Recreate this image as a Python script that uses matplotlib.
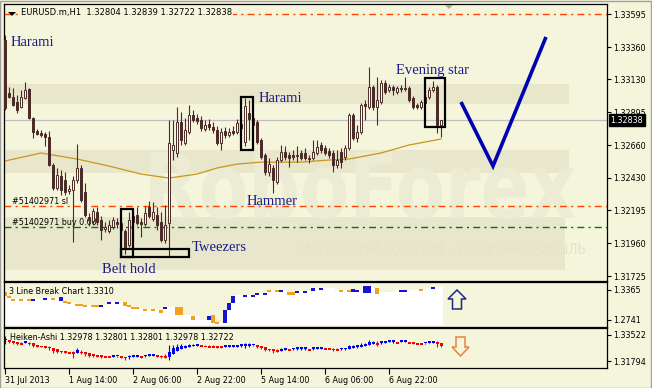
import numpy as np
import matplotlib
matplotlib.use('Agg')
import matplotlib.pyplot as plt
from matplotlib.patches import Rectangle, Polygon, PathPatch
from matplotlib.textpath import TextPath
from matplotlib.font_manager import FontProperties
from matplotlib.transforms import Affine2D, IdentityTransform, blended_transform_factory

# ---- data (EURUSD.m H1) ----
opens = [1.33411, 1.33033, 1.33004, 1.32969, 1.32933, 1.32997, 1.33062, 1.32854, 1.32762, 1.32747,
         1.32740, 1.32719, 1.32519, 1.32355, 1.32441, 1.32412, 1.32334, 1.32341, 1.32412, 1.32498,
         1.32326, 1.32148, 1.32119, 1.32184, 1.32126, 1.32062, 1.32048, 1.32076, 1.32112, 1.32105,
         1.32048, 1.31948, 1.32112, 1.32162, 1.32112, 1.32098, 1.32219, 1.32134, 1.32162, 1.32112,
         1.31984, 1.32105, 1.32626, 1.32605, 1.32826, 1.32676, 1.32754, 1.32876, 1.32854, 1.32840,
         1.32776, 1.32812, 1.32790, 1.32769, 1.32676, 1.32762, 1.32733, 1.32762, 1.32754, 1.32812,
         1.32683, 1.32890, 1.32854, 1.32826, 1.32697, 1.32590, 1.32469, 1.32498, 1.32398, 1.32555,
         1.32612, 1.32590, 1.32590, 1.32583, 1.32605, 1.32605, 1.32569, 1.32569, 1.32605, 1.32662,
         1.32640, 1.32619, 1.32605, 1.32519, 1.32612, 1.32576, 1.32640, 1.32876, 1.32712, 1.32754,
         1.32954, 1.32933, 1.33076, 1.32933, 1.32969, 1.33104, 1.33054, 1.33076, 1.33040, 1.33069,
         1.33062, 1.33069, 1.32997, 1.32947, 1.32933, 1.33004, 1.33004, 1.33054, 1.33076, 1.32804]
highs = [1.33447, 1.33076, 1.33069, 1.33019, 1.33054, 1.33112, 1.33069, 1.32862, 1.32776, 1.32769,
         1.32754, 1.32762, 1.32533, 1.32498, 1.32484, 1.32469, 1.32377, 1.32441, 1.32669, 1.32519,
         1.32391, 1.32176, 1.32212, 1.32219, 1.32155, 1.32112, 1.32126, 1.32148, 1.32141, 1.32126,
         1.32062, 1.32184, 1.32184, 1.32219, 1.32141, 1.32226, 1.32262, 1.32255, 1.32219, 1.32184,
         1.32233, 1.32840, 1.32840, 1.32933, 1.32897, 1.32854, 1.32947, 1.32912, 1.32883, 1.32869,
         1.32840, 1.32847, 1.32826, 1.32797, 1.32783, 1.32790, 1.32783, 1.32797, 1.32847, 1.32840,
         1.32997, 1.32983, 1.32876, 1.32840, 1.32712, 1.32605, 1.32569, 1.32519, 1.32576, 1.32662,
         1.32655, 1.32612, 1.32626, 1.32655, 1.32626, 1.32640, 1.32590, 1.32697, 1.32697, 1.32683,
         1.32662, 1.32640, 1.32626, 1.32626, 1.32640, 1.32662, 1.32890, 1.32890, 1.32804, 1.32962,
         1.32983, 1.33219, 1.33090, 1.33147, 1.33126, 1.33126, 1.33097, 1.33090, 1.33083, 1.33090,
         1.33147, 1.33083, 1.33012, 1.32962, 1.32983, 1.33019, 1.33076, 1.33119, 1.33090, 1.32839]
lows = [1.32912, 1.32997, 1.32940, 1.32890, 1.32926, 1.32990, 1.32847, 1.32712, 1.32733, 1.32719,
        1.32655, 1.32512, 1.32341, 1.32341, 1.32305, 1.32305, 1.32312, 1.31969, 1.32391, 1.32255,
        1.32148, 1.32084, 1.32091, 1.32091, 1.31984, 1.32041, 1.32034, 1.32062, 1.32069, 1.32012,
        1.31883, 1.31933, 1.32098, 1.32091, 1.32005, 1.32084, 1.32141, 1.32119, 1.32055, 1.31969,
        1.31962, 1.31869, 1.32555, 1.32576, 1.32662, 1.32662, 1.32740, 1.32826, 1.32812, 1.32762,
        1.32762, 1.32769, 1.32747, 1.32662, 1.32626, 1.32712, 1.32719, 1.32733, 1.32740, 1.32754,
        1.32655, 1.32697, 1.32783, 1.32669, 1.32562, 1.32448, 1.32441, 1.32319, 1.32384, 1.32540,
        1.32555, 1.32505, 1.32555, 1.32540, 1.32555, 1.32555, 1.32533, 1.32555, 1.32590, 1.32605,
        1.32590, 1.32569, 1.32469, 1.32498, 1.32498, 1.32555, 1.32626, 1.32697, 1.32683, 1.32740,
        1.32840, 1.32919, 1.32912, 1.32804, 1.32954, 1.33026, 1.33040, 1.33019, 1.33026, 1.33040,
        1.33047, 1.32969, 1.32919, 1.32919, 1.32919, 1.32947, 1.32990, 1.33040, 1.32747, 1.32722]
closes = [1.32926, 1.33004, 1.32947, 1.32912, 1.33004, 1.33054, 1.32854, 1.32754, 1.32740, 1.32733,
          1.32719, 1.32519, 1.32355, 1.32448, 1.32341, 1.32326, 1.32348, 1.32412, 1.32498, 1.32269,
          1.32162, 1.32126, 1.32191, 1.32112, 1.32055, 1.32076, 1.32091, 1.32126, 1.32098, 1.32055,
          1.31926, 1.32126, 1.32155, 1.32105, 1.32098, 1.32176, 1.32155, 1.32184, 1.32091, 1.31984,
          1.32091, 1.32676, 1.32662, 1.32826, 1.32697, 1.32769, 1.32876, 1.32840, 1.32833, 1.32783,
          1.32804, 1.32790, 1.32769, 1.32676, 1.32754, 1.32733, 1.32754, 1.32747, 1.32819, 1.32783,
          1.32940, 1.32847, 1.32804, 1.32683, 1.32576, 1.32469, 1.32526, 1.32412, 1.32555, 1.32612,
          1.32576, 1.32569, 1.32576, 1.32590, 1.32569, 1.32569, 1.32562, 1.32612, 1.32647, 1.32626,
          1.32605, 1.32590, 1.32519, 1.32555, 1.32540, 1.32640, 1.32876, 1.32712, 1.32754, 1.32947,
          1.32940, 1.33076, 1.32933, 1.32983, 1.33104, 1.33040, 1.33076, 1.33054, 1.33069, 1.33062,
          1.33069, 1.32983, 1.32933, 1.32933, 1.32969, 1.32962, 1.33054, 1.33076, 1.32804, 1.32838]

# moving average, sampled at bar indices
ma_idx = [0, 9, 18, 26, 34, 41, 48, 53, 58, 64, 74, 81, 86, 94, 101, 109]
ma_val = [1.32548, 1.32605, 1.32562, 1.32512, 1.32455, 1.32426, 1.32455, 1.32498,
          1.32526, 1.32540, 1.32540, 1.32555, 1.32562, 1.32605, 1.32662, 1.32705]

# 3 Line Break chart subwindow: top / bottom of each mark, kind u=up d=down n=none
lb_top = [1.3323, 1.3240, 1.3178, 1.3178, 1.3178, 1.3178, 1.3178, 1.3178, 1.3178, 1.3178,
          1.3198, 1.3198, 1.3198, 1.3198, 1.3219, 1.3136, 1.3115, 1.3094, 1.3074, 1.3074,
          1.3053, 1.3053, 1.3053, 1.3053, 1.3053, 1.3053, 1.3115, 1.3115, 1.3115, 1.3115,
          1.3115, 1.3053, 1.3011, 1.3011, 1.2970, 1.2970, 1.2970, 1.2970, 1.2970, 1.2949,
          1.3011, 1.3011, 1.3011, 1.3011, 1.3011, 1.2845, 1.2845, 1.2824, 1.2824, 1.2741,
          1.2741, 1.2824, 1.2845, 1.2699, 1.2699, 1.2949, 1.3094, 1.3240, 1.3261, 1.3261,
          1.3261, 1.3261, 1.3261, 1.3303, 1.3303, 1.3303, 1.3365, 1.3365, 1.3365, 1.3365,
          1.3365, 1.3323, 1.3323, 1.3344, 1.3344, 1.3344, 1.3344, 1.3407, 1.3407, 1.3407,
          1.3407, 1.3407, 1.3407, 1.3365, 1.3365, 1.3365, 1.3365, 1.3386, 1.3365, 1.3365,
          1.3448, 1.3448, 1.3407, 1.3407, 1.3323, 1.3323, 1.3323, 1.3323, 1.3365, 1.3365,
          1.3365, 1.3365, 1.3365, 1.3365, 1.3386, 1.3386, 1.3407, 1.3427, 1.3427, 1.3427]
lb_bot = [1.3240, 1.3198, 1.3136, 1.3136, 1.3136, 1.3136, 1.3136, 1.3136, 1.3136, 1.3136,
          1.3157, 1.3157, 1.3157, 1.3157, 1.3136, 1.3094, 1.3074, 1.3053, 1.3032, 1.3032,
          1.3011, 1.3011, 1.3011, 1.3011, 1.3011, 1.3011, 1.3074, 1.3074, 1.3074, 1.3074,
          1.3032, 1.3011, 1.2970, 1.2970, 1.2928, 1.2928, 1.2928, 1.2928, 1.2928, 1.2887,
          1.2970, 1.2970, 1.2970, 1.2845, 1.2845, 1.2803, 1.2803, 1.2741, 1.2741, 1.2699,
          1.2699, 1.2741, 1.2678, 1.2658, 1.2658, 1.2678, 1.2949, 1.3094, 1.3219, 1.3219,
          1.3219, 1.3219, 1.3219, 1.3261, 1.3261, 1.3261, 1.3323, 1.3323, 1.3323, 1.3323,
          1.3323, 1.3261, 1.3261, 1.3303, 1.3303, 1.3303, 1.3303, 1.3344, 1.3365, 1.3365,
          1.3365, 1.3365, 1.3365, 1.3323, 1.3323, 1.3323, 1.3323, 1.3323, 1.3323, 1.3323,
          1.3303, 1.3303, 1.3365, 1.3282, 1.3282, 1.3282, 1.3282, 1.3282, 1.3323, 1.3323,
          1.3323, 1.3323, 1.3323, 1.3323, 1.3344, 1.3344, 1.3365, 1.3386, 1.3386, 1.3386]
lb_kind = ("dddndndunn" "undnuddndd" "dnddununun" "ddddndndnd" "unnddnndnn"
           "nuddnuuunn" "unuunudndu" "nddunununu" "nnnndnduun" "uundnnnnnu" "unnndnnunn")
lb_floor = 1.2637

# levels and annotations
tp_level = 1.33595
sl_level = 1.32229
buy_level = 1.32074
bid = 1.32838
forecast_x = [114, 122, 135.25]
forecast_y = [1.32969, 1.32512, 1.33433]

price_ticks = [1.31725, 1.31960, 1.32195, 1.32430, 1.32660, 1.32895, 1.33130, 1.33360, 1.33595]
time_ticks = [0, 16, 32, 48, 64, 80, 96]
time_labels = ['31 Jul 2013', '1 Aug 14:00', '2 Aug 06:00', '2 Aug 22:00',
               '5 Aug 14:00', '6 Aug 06:00', '6 Aug 22:00']

# pattern name, text x, text y, box (x0, x1, y0, y1)
patterns = [
    ('Harami', 1.5, 1.33369, None),
    ('Harami', 63.5, 1.32969, (59.0, 62.0, 1.32626, 1.33004)),
    ('Evening star', 97.75, 1.33169, (105.0, 110.0, 1.32790, 1.33140)),
    ('Hammer', 60.5, 1.32233, None),
    ('Tweezers', 46.75, 1.31905, (29.0, 46.0, 1.31862, 1.31919)),
    ('Belt hold', 24.25, 1.31748, (29.0, 32.0, 1.31862, 1.32205)),
]

# ---- figure ----
W, H = 652, 388
BG = '#F5F5DC'
BAND = '#E9E7CB'
CANDLE = '#4A2B27'
TXT = 'DejaVu Sans'
FS = 5.8

fig = plt.figure(figsize=(W / 100, H / 100), dpi=100, facecolor=BG)


def px_box(x0, y0, x1, y1):
    return [x0 / W, 1 - y1 / H, (x1 - x0) / W, (y1 - y0) / H]


ax = fig.add_axes(px_box(4, 4, 607, 281))
ax1 = fig.add_axes(px_box(4, 282, 607, 327))
ax2 = fig.add_axes(px_box(4, 328, 607, 368))

for a in (ax, ax1, ax2):
    a.set_facecolor(BG)
    a.set_xlim(-0.25, 150.5)
    for s in a.spines.values():
        s.set_color('black')
        s.set_linewidth(0.9)
    a.tick_params(axis='y', left=False, right=True, labelleft=False, labelright=True,
                  direction='out', length=3, width=0.8, labelsize=FS, pad=1.5)
    a.tick_params(axis='x', bottom=False, labelbottom=False)

ax.set_ylim(1.316915, 1.336685)
ax1.set_ylim(1.2595, 1.3531)
ax2.set_ylim(1.31329, 1.33987)


def text_in_box(axis, s, x0, x1, ytop, ybase, color, weight='bold'):
    fp = FontProperties(family=TXT, weight=weight)
    tp = TextPath((0, 0), s, size=1, prop=fp)
    ext = tp.get_extents()
    cap = TextPath((0, 0), 'H', size=1, prop=fp).get_extents().y1
    tr = Affine2D().translate(-ext.x0, 0).scale((x1 - x0) / ext.width, (ybase - ytop) / cap)
    tr = tr.translate(x0, H - ybase)
    patch = PathPatch(tr.transform_path(tp), facecolor=color, edgecolor='none',
                      transform=IdentityTransform(), zorder=0.6)
    axis.add_artist(patch)


# background bands and faint watermark
ax.axhspan(1.32954, 1.33097, xmax=0.937, color=BAND, lw=0, zorder=0.3)
ax.axhspan(1.32462, 1.32626, xmax=0.937, color=BAND, lw=0, zorder=0.3)
ax.axhspan(1.31770, 1.32148, xmax=0.931, color=BAND, lw=0, zorder=0.3)
text_in_box(ax, 'RoboForex', 150, 575, 152, 218, '#ECEBD3')
text_in_box(ax, 'ИСПОЛЬЗУЙ РОБОТОВ – ПОЛУЧАЙ ПРИБЫЛЬ', 303, 585, 243, 254, '#E4E2CA', weight='normal')

# order lines
ax.axhline(tp_level, color='#FF4500', lw=1.0, dashes=(5, 3, 1.5, 3), zorder=1)
ax.axhline(sl_level, color='#FF4500', lw=1.0, dashes=(5, 3, 1.5, 3), zorder=1)
ax.axhline(buy_level, color='#007A00', lw=1.0, dashes=(5, 3, 1.5, 3), zorder=1)
ax.axhline(bid, color='#BEBEBE', lw=0.9, zorder=1)
ax.text(1.75, sl_level, '#51402971 sl', fontsize=FS, family=TXT, va='bottom', zorder=1.5)
ax.text(1.75, buy_level, '#51402971 buy 0.00', fontsize=FS, family=TXT, va='bottom', zorder=1.5)

# moving average
ax.plot(ma_idx, ma_val, color='#C8961E', lw=0.9, zorder=2)

# candles
n = len(closes)
idx = np.arange(n)
for i in range(n):
    o, h, l, c = opens[i], highs[i], lows[i], closes[i]
    ax.vlines(i, l, h, color=CANDLE, lw=0.8, zorder=3)
    bot = min(o, c)
    hgt = max(abs(c - o), 0.00002)
    fc = CANDLE if c < o else '#FFFFF4'
    ax.add_patch(Rectangle((i - 0.3, bot), 0.6, hgt, facecolor=fc, edgecolor=CANDLE,
                           lw=0.7, zorder=3.2))

# pattern boxes and labels
for name, tx, ty, rect in patterns:
    ax.text(tx, ty, name, family='Liberation Serif', fontsize=10.5, color='#1A1A8A',
            va='baseline', ha='left', zorder=5)
    if rect is not None:
        x0, x1, y0, y1 = rect
        ax.add_patch(Rectangle((x0, y0), x1 - x0, y1 - y0, fill=False, edgecolor='black',
                               lw=1.6, zorder=4))

# forecast V
ax.plot(forecast_x, forecast_y, color='#0000B4', lw=2.6, solid_capstyle='butt',
        solid_joinstyle='miter', zorder=5)

ax.set_yticks(price_ticks)
ax.set_yticklabels(['%.5f' % v for v in price_ticks], family=TXT)
ax.set_xticks([])

# bid tag
tag_tr = blended_transform_factory(ax.transAxes, ax.transData)
ax.text(1.006, bid, '%.5f' % bid, transform=tag_tr, fontsize=FS, family=TXT, color='white',
        va='center', ha='left', clip_on=False, zorder=10,
        bbox=dict(boxstyle='square,pad=0.18', fc='black', ec='black'))

# ---- 3 Line Break subwindow ----
top = np.array(lb_top)
bot = np.array(lb_bot)
kinds = np.array(list(lb_kind))
ax1.bar(idx, top - lb_floor, bottom=lb_floor, width=1.0, color='white', lw=0, zorder=1)
for k, col in (('u', '#1414D2'), ('d', '#F2A024')):
    m = kinds == k
    ax1.bar(idx[m], top[m] - bot[m], bottom=bot[m], width=0.9, color=col, lw=0, zorder=2)
ax1.set_yticks([1.2741, 1.3365])
ax1.set_yticklabels(['1.2741', '1.3365'], family=TXT)
ax1.set_xticks([])
ax1.text(0.009, 0.78, '3 Line Break Chart 1.3310', transform=ax1.transAxes, fontsize=FS,
         family=TXT, va='center', zorder=5)

# ---- Heiken-Ashi subwindow (computed from the candles) ----
o = np.array(opens); h = np.array(highs); l = np.array(lows); c = np.array(closes)
ha_c = (o + h + l + c) / 4
ha_o = np.empty(n)
ha_o[0] = (o[0] + c[0]) / 2
for i in range(1, n):
    ha_o[i] = (ha_o[i - 1] + ha_c[i - 1]) / 2
ha_h = np.maximum.reduce([h, ha_o, ha_c])
ha_l = np.minimum.reduce([l, ha_o, ha_c])
ha_col = np.where(ha_c >= ha_o, '#0000F0', '#F00000')
body = ha_c - ha_o
body = np.where(np.abs(body) < 0.0012, np.where(body >= 0, 0.0012, -0.0012), body)
ax2.vlines(idx, ha_l, ha_h, colors=ha_col, lw=0.8, zorder=2)
ax2.bar(idx, body, bottom=ha_o, width=0.75, color=ha_col, lw=0, zorder=3)
ax2.set_yticks([1.31794, 1.33522])
ax2.set_yticklabels(['1.31794', '1.33522'], family=TXT)
ax2.text(0.01, 0.75, 'Heiken-Ashi 1.32978 1.32801 1.32801 1.32978 1.32722', transform=ax2.transAxes,
         fontsize=FS, family=TXT, va='center', zorder=5)
ax2.tick_params(axis='x', bottom=True, labelbottom=True, direction='out', length=4,
                width=0.8, labelsize=FS, pad=2)
ax2.set_xticks(time_ticks)
ax2.set_xticklabels(time_labels, family=TXT, ha='left')

# arrows in the subwindows
up = [(457, 290), (448, 299), (452.5, 299), (452.5, 309), (461.5, 309), (461.5, 299), (466, 299)]
dn = [(460.5, 356), (452, 347), (456, 347), (456, 337), (465, 337), (465, 347), (469, 347)]
for pts, ec in ((up, '#1C2A80'), (dn, '#E8843C')):
    fig.add_artist(Polygon([(x, H - y) for x, y in pts], closed=True, facecolor=BG,
                           edgecolor=ec, lw=1.1, transform=IdentityTransform(), zorder=6))

# header
fig.text(21 / W, 1 - 12.5 / H, 'EURUSD.m,H1  1.32804 1.32839 1.32722 1.32838', fontsize=6,
         family=TXT, va='center', ha='left', zorder=6,
         bbox=dict(boxstyle='square,pad=0.12', fc=BG, ec='none'))
fig.add_artist(Polygon([(8, H - 12), (16, H - 12), (12, H - 16)], closed=True, facecolor='black',
                       edgecolor='none', transform=IdentityTransform(), zorder=6))
fig.add_artist(Polygon([(445, H - 5), (453, H - 5), (449, H - 9)], closed=True,
                       facecolor='#A8A8A8', edgecolor='none', transform=IdentityTransform(), zorder=6))
fig.add_artist(Rectangle((0, 0), W - 1, H - 1, fill=False, edgecolor='#A0A0A0', lw=1.0,
                         transform=IdentityTransform(), zorder=7))

fig.savefig('out.png', dpi=100, facecolor=BG)
